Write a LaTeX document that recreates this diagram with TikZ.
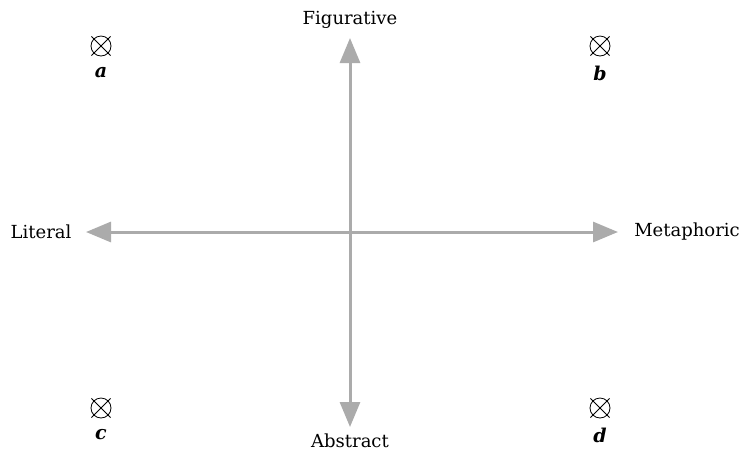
\documentclass[tikz,border=0pt]{standalone}
\usepackage{fontspec}
\setmainfont{DejaVu Serif}
\usetikzlibrary{arrows.meta}
\definecolor{axisgray}{RGB}{171,171,171}
\tikzset{
  axisline/.style={
    draw=axisgray, line width=1.5pt,
    {Triangle[length=12.5pt, width=10pt]}-{Triangle[length=12.5pt, width=10pt]}
  },
  xcircle/.style={circle, draw, minimum size=10pt, inner sep=0pt},
  corner/.style={font=\fontsize{9.5}{11}\selectfont\bfseries\itshape}
}

\begin{document}
\begin{tikzpicture}[x=0.5pt, y=-0.5pt, font=\fontsize{9}{11}\selectfont]
    \useasboundingbox (0,0) rectangle (741,452);

    % Axis labels
    \node (fig) at (350,20) {Figurative};
    \node (abs) at (350,441) {Abstract};
    \node (lit) at (41,232) {Literal};
    \node (met) at (687,232) {Metaphoric};

    % Axis end points
    \coordinate (top) at (350,38);
    \coordinate (bot) at (350,427);
    \coordinate (lft) at (86,232);
    \coordinate (rgt) at (618,232);

    % Axes
    \draw[axisline] (top) -- (bot);
    \draw[axisline] (lft) -- (rgt);

    % Corner marks
    \node[xcircle] (ma) at (101,46) {};
    \node[xcircle] (mb) at (600,46) {};
    \node[xcircle] (mc) at (101,408) {};
    \node[xcircle] (md) at (600,408) {};
    \foreach \m in {ma,mb,mc,md}{
      \draw (\m.center) +(45:13.5) -- +(225:13.5);
      \draw (\m.center) +(135:13.5) -- +(315:13.5);
    }

    % Corner letters
    \node[corner] (a) at (101,73) {a};
    \node[corner] (b) at (600,73) {b};
    \node[corner] (c) at (101,435) {c};
    \node[corner] (d) at (600,435) {d};

\end{tikzpicture}
\end{document}
